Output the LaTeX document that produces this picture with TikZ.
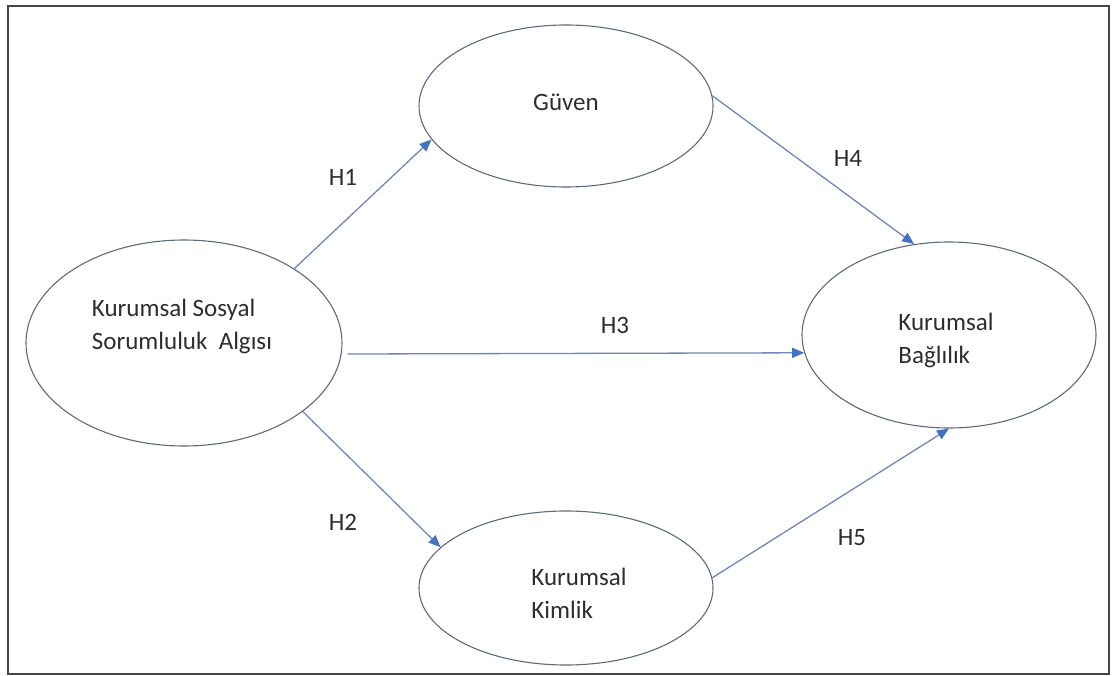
\documentclass[tikz,border=0pt]{standalone}
\usepackage{fontspec}
\setmainfont{Carlito}
\usetikzlibrary{shapes.geometric,arrows.meta}
\definecolor{edgegray}{RGB}{95,105,125}
\definecolor{arrowline}{RGB}{110,135,185}
\definecolor{arrowhead}{RGB}{68,114,196}
\definecolor{txt}{RGB}{45,45,45}
\definecolor{frame}{RGB}{70,70,70}
\begin{document}
\begin{tikzpicture}[x=1pt,y=-1pt,
  construct/.style={ellipse,draw=edgegray,line width=1.1pt,inner sep=0pt},
  lbl/.style={text=txt,font=\fontsize{25}{33}\selectfont,align=left,inner sep=0pt},
  hyp/.style={text=txt,font=\fontsize{25}{30}\selectfont,inner sep=0pt},
  link/.style={draw=arrowline,line width=1.3pt,-{Triangle[length=12pt,width=10pt,fill=arrowhead,color=arrowhead]}}]
\useasboundingbox (0,0) rectangle (1115,676);
\draw[frame,line width=1.6pt] (8,6) rectangle (1109,674);
% constructs
\node[construct,minimum width=316pt,minimum height=206pt] (kssa) at (184,343) {};
\node[construct,minimum width=294pt,minimum height=162pt] (guv) at (566,106) {};
\node[construct,minimum width=294pt,minimum height=186pt] (kb) at (949,335) {};
\node[construct,minimum width=294pt,minimum height=154pt] (kk) at (566,588) {};
% texts
\node[lbl] (kssat) at (182,326) {Kurumsal Sosyal\\Sorumluluk\ \ Algısı};
\node[lbl] (guvt) at (566,102) {Güven};
\node[lbl] (kbt) at (946,340) {Kurumsal\\Bağlılık};
\node[lbl] (kkt) at (579,593) {Kurumsal\\Kimlik};
% connectors
\draw[link] (kssa.34) -- (guv.194);
\draw[link] (guv.4) -- (kb.111);
\draw[link,shorten <=6pt] (kssa.356) -- (kb.187);
\draw[link] (kssa.330) -- (kk.162);
\draw[link] (kk.4) -- (kb.270);
% hypothesis labels
\node[hyp] (h1) at (343,177) {H1};
\node[hyp] (h4) at (848,158) {H4};
\node[hyp] (h3) at (615,325) {H3};
\node[hyp] (h2) at (343,522) {H2};
\node[hyp] (h5) at (852,538) {H5};
\end{tikzpicture}
\end{document}
